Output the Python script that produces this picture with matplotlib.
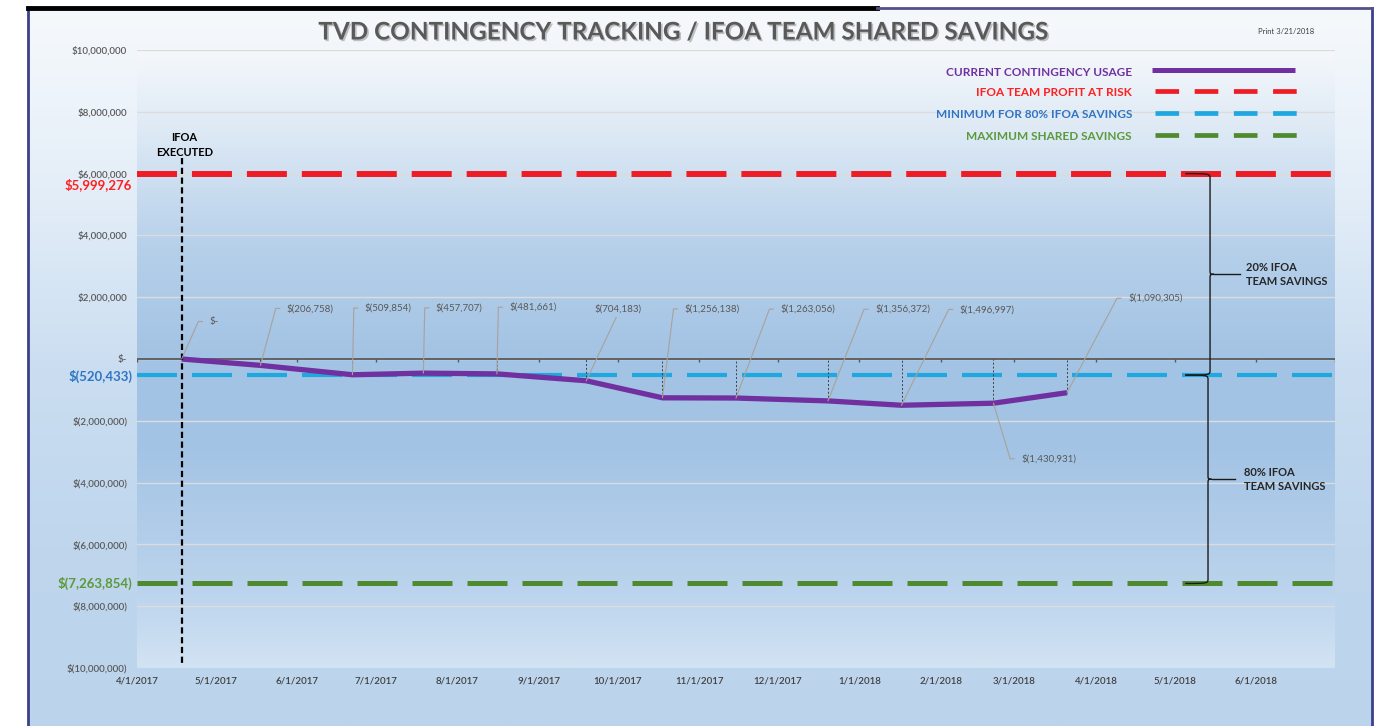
import numpy as np
import pandas as pd
import matplotlib
matplotlib.use("Agg")
import matplotlib.pyplot as plt
import matplotlib.transforms as mtransforms
import matplotlib.patheffects as pe
from matplotlib.colors import LinearSegmentedColormap
from matplotlib.path import Path
from matplotlib.patches import PathPatch

plt.rcParams['font.family'] = ['Lato', 'DejaVu Sans']

# ---- data -------------------------------------------------------------
usage_dates = pd.to_datetime([
    '2017-04-18', '2017-05-18', '2017-06-22', '2017-07-19', '2017-08-16',
    '2017-09-19', '2017-10-18', '2017-11-15', '2017-12-20', '2018-01-17',
    '2018-02-21', '2018-03-21'])
usage_values = [0, -206758, -509854, -457707, -481661, -704183,
                -1256138, -1263056, -1356372, -1496997, -1430931, -1090305]

ref_names = ['IFOA TEAM PROFIT AT RISK', 'MINIMUM FOR 80% IFOA SAVINGS',
             'MAXIMUM SHARED SAVINGS']
ref_values = [5999276, -520433, -7263854]
ref_labels = ['$5,999,276', '$(520,433)', '$(7,263,854)']

usage_name = 'CURRENT CONTINGENCY USAGE'
title = 'TVD CONTINGENCY TRACKING / IFOA TEAM SHARED SAVINGS'
print_note = 'Print 3/21/2018'
brace_texts = ['20% IFOA\nTEAM SAVINGS', '80% IFOA\nTEAM SAVINGS']

month_ticks = pd.date_range('2017-04-01', '2018-06-01', freq='MS')
x_start, x_end = pd.Timestamp('2017-04-01'), pd.Timestamp('2018-07-01')
y_ticks = np.arange(-10_000_000, 10_000_001, 2_000_000)

# label offsets (points) from each usage point, and how the leader attaches
label_offsets = [(20, 27), (19, 41), (9, 48), (9, 47), (9, 48), (6, 52),
                 (16, 64), (32, 64), (34, 66), (42, 69), (20, -40), (44, 68)]
label_attach = ['left'] * 5 + ['bottom'] + ['left'] * 6

PURPLE = '#7030a0'
line_colors = ['#ee1c25', '#1fa8e0', '#4f8a2f']
text_colors = ['#ff2020', '#2e75c5', '#5a9a3a']
line_widths = [4.3, 3.0, 3.6]
line_dashes = [(6.7, 2.5), (9.6, 3.6), (8.0, 3.0)]
GRAY = '#595959'


def money(v):
    if v == 0:
        return '$-'
    if v < 0:
        return f'$({abs(v):,.0f})'
    return f'${v:,.0f}'


W, H = 1385, 726
fig = plt.figure(figsize=(W / 100, H / 100), dpi=100)
fig.patch.set_facecolor('white')

# ---- background frame ------------------------------------------------
bg = fig.add_axes([0, 0, 1, 1], zorder=-10)
bg.set_xlim(0, W)
bg.set_ylim(H, 0)
bg.axis('off')
frame_cmap = LinearSegmentedColormap.from_list(
    'frame', ['#f6f9fc', '#e4eef8', '#cbdef1', '#bfd6ed', '#bbd4ec'])
frame_grad = np.linspace(0, 1, 256).reshape(-1, 1)
bg.imshow(frame_grad, cmap=frame_cmap, extent=[29, 1372, H, 8], aspect='auto')
bg.plot([28, 28], [8, H], color='#3d3f8a', lw=2)
bg.plot([1372, 1372], [8, H], color='#3d3f8a', lw=2)
bg.plot([28, 877], [8, 8], color='black', lw=3.5)
bg.plot([877, 1372], [8, 8], color='#55508a', lw=2)

# ---- main plot ---------------------------------------------------------
ax = fig.add_axes([137 / W, 1 - 668 / H, 1198 / W, 618 / H])
ax.patch.set_alpha(0)
plot_cmap = LinearSegmentedColormap.from_list(
    'plot', [(0.0, '#d2e3f3'), (0.12, '#bcd4ed'), (0.35, '#a4c4e5'),
             (0.5, '#a3c3e4'), (0.68, '#b6d0ea'), (0.85, '#dae7f4'),
             (1.0, '#f5f8fb')])
ax.imshow(np.linspace(0, 1, 256).reshape(-1, 1), cmap=plot_cmap,
          extent=[0, 1, 0, 1], origin='lower', aspect='auto',
          transform=ax.transAxes, zorder=0)

ax.set_xlim(x_start, x_end)
ax.set_ylim(y_ticks[0], y_ticks[-1])
for s in ax.spines.values():
    s.set_visible(False)

ax.set_yticks(y_ticks)
ax.set_yticklabels([money(v) for v in y_ticks])
ax.set_xticks(month_ticks)
ax.set_xticklabels([f'{d.month}/{d.day}/{d.year}' for d in month_ticks])
ax.tick_params(axis='y', length=0, pad=7, labelsize=7, labelcolor=GRAY)
ax.tick_params(axis='x', length=0, pad=6, labelsize=7, labelcolor='#404040')
for lbl in ax.get_xticklabels() + ax.get_yticklabels():
    lbl.set_fontweight('semibold')
for yv in y_ticks:
    ax.axhline(yv, color='#dcdcdc', lw=1, zorder=1)

# zero axis with small month ticks
ax.axhline(0, color=GRAY, lw=1.3, zorder=2)
ax.vlines(list(month_ticks) + [x_end], -100000, 0, color=GRAY, lw=1, zorder=2)

# reference lines
for val, col, lw, dsh in zip(ref_values, line_colors, line_widths, line_dashes):
    ax.axhline(val, color=col, lw=lw, dashes=dsh, zorder=3)

blend = mtransforms.blended_transform_factory(ax.transAxes, ax.transData)
for val, lab, col, dy in zip(ref_values, ref_labels, text_colors, [-8, -1, 0]):
    ax.annotate(lab, xy=(-0.004, val), xycoords=blend, xytext=(0, dy),
                textcoords='offset points', ha='right', va='center',
                fontsize=9.5, fontweight='bold', color=col)

# drop lines and usage line
ax.vlines(usage_dates[1:], usage_values[1:], 0, colors='#404040',
          linestyles=(0, (2, 2)), lw=0.7, zorder=4)
ax.plot(usage_dates, usage_values, color=PURPLE, lw=3.8,
        solid_capstyle='butt', zorder=6)

# IFOA executed marker
ifoa_date = usage_dates[0]
ax.plot([ifoa_date, ifoa_date], [6_500_000, -9_900_000], color='black',
        lw=1.6, dashes=(2.8, 1.6), zorder=7)
ax.annotate('IFOA\nEXECUTED', xy=(ifoa_date, 6_930_000), xytext=(2, 0),
            textcoords='offset points', ha='center', va='center',
            fontsize=8, fontweight='bold', color='black', linespacing=1.45,
            zorder=7)

# data labels with leader lines
for d, v, (dx, dy), att in zip(usage_dates, usage_values, label_offsets,
                               label_attach):
    if att == 'left':
        ang = np.degrees(np.arctan2(dy, dx - 8))
        arrow = dict(arrowstyle='-', color='#a8a29a', lw=0.8, shrinkA=3,
                     shrinkB=0, relpos=(0, 0.5),
                     connectionstyle=f'angle,angleA=0,angleB={ang:.1f},rad=0')
    else:
        arrow = dict(arrowstyle='-', color='#a8a29a', lw=0.8, shrinkA=1,
                     shrinkB=0, relpos=(0.5, 0))
    ax.annotate(money(v), xy=(d, v), xytext=(dx, dy),
                textcoords='offset points', ha='left', va='center',
                fontsize=7, color=GRAY, arrowprops=arrow, zorder=8)


# braces on the right
def brace(y_top, y_bot, x_left, x_line, x_tip, x_end_line, d, text, x_text):
    y_mid = (y_top + y_bot) / 2
    verts = [(x_left, y_top), (x_line, y_top), (x_line, y_top), (x_line, y_top - d),
             (x_line, y_mid + d),
             (x_line, y_mid), (x_line, y_mid), (x_tip, y_mid),
             (x_line, y_mid), (x_line, y_mid), (x_line, y_mid - d),
             (x_line, y_bot + d),
             (x_line, y_bot), (x_line, y_bot), (x_left, y_bot)]
    codes = ([Path.MOVETO] + [Path.CURVE4] * 3 + [Path.LINETO] + [Path.CURVE4] * 6
             + [Path.LINETO] + [Path.CURVE4] * 3)
    ax.add_patch(PathPatch(Path(verts, codes), fill=False, lw=1, color='#1a1a1a',
                           transform=blend, zorder=8))
    ax.plot([x_tip, x_end_line], [y_mid, y_mid], color='#1a1a1a', lw=1,
            transform=blend, zorder=8)
    ax.text(x_text, y_mid, text, transform=blend, ha='left', va='center',
            fontsize=8, fontweight='bold', color='#262626', linespacing=1.3,
            zorder=8)


brace(ref_values[0], ref_values[1], 0.875, 0.8957, 0.899, 0.9207, 160000,
      brace_texts[0], 0.9256)
brace(ref_values[1], ref_values[2], 0.875, 0.894, 0.897, 0.9165, 160000,
      brace_texts[1], 0.924)

# ---- overlay: title + legend ------------------------------------------
ov = fig.add_axes([0, 0, 1, 1], zorder=10)
ov.set_xlim(0, W)
ov.set_ylim(H, 0)
ov.axis('off')
ov.patch.set_alpha(0)
ov.text(683, 32, title, ha='center', va='center', fontsize=17.5,
        fontweight='bold', color=GRAY,
        path_effects=[pe.withSimplePatchShadow(offset=(1.2, -1.2),
                                               shadow_rgbFace='#9a9a9a',
                                               alpha=0.6)])
ov.text(1286, 31, print_note, ha='center', va='center', fontsize=5.5,
        color='#404040')

legend_names = [usage_name] + ref_names
legend_colors = [PURPLE] + text_colors
legend_lines = [PURPLE] + line_colors
legend_y = [72, 93, 115, 137]
for i, (name, tc, lc, yy) in enumerate(zip(legend_names, legend_colors,
                                            legend_lines, legend_y)):
    ov.text(1132, yy, name, ha='right', va='center', fontsize=8.5,
            fontweight='bold', color=tc)
    if i == 0:
        ov.plot([1152, 1295], [yy - 2, yy - 2], color=lc, lw=3.6,
                solid_capstyle='butt')
    else:
        ov.plot([1155, 1297], [yy - 2, yy - 2], color=lc, lw=3.4,
                dashes=(5, 3.3))

fig.savefig('out.png', dpi=100)
